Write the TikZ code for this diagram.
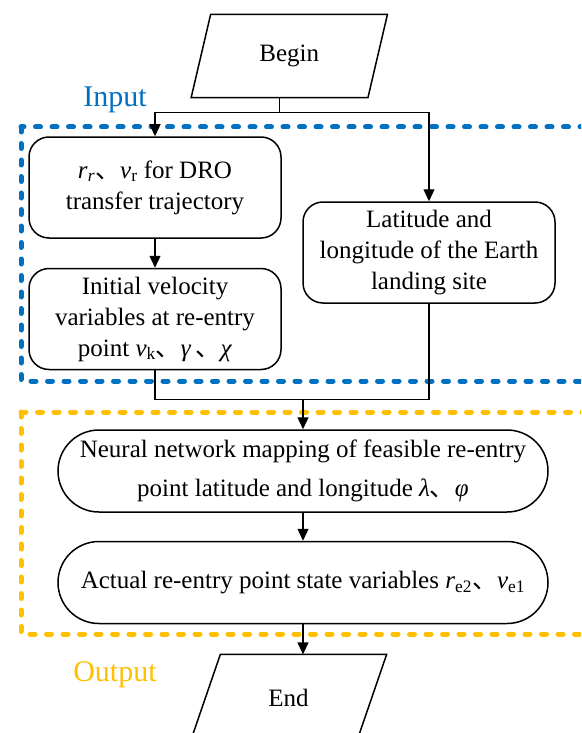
\documentclass[tikz,border=0pt]{standalone}
\usepackage{fontspec}
\setmainfont{Liberation Serif}
\newfontfamily\cjk{Noto Sans CJK SC}
\usetikzlibrary{arrows.meta, positioning}
\definecolor{cblue}{HTML}{0070C0}
\definecolor{cyellow}{HTML}{FFC000}
\newcommand{\dun}{{\cjk 、}}
\tikzset{
  every picture/.style={x=1pt, y=-1pt, line width=1.3pt},
  box/.style={draw, rounded corners=20pt, align=center, minimum width=252pt, minimum height=101pt, line width=1.5pt, font=\fontsize{25}{31}\selectfont},
  pill/.style={draw, rounded corners=41pt, align=center, minimum width=490pt, minimum height=82pt, line width=1.5pt, font=\fontsize{25}{39}\selectfont},
  io/.style={align=center, font=\fontsize{25}{31}\selectfont},
  arrow/.style={-{Triangle[length=12pt, width=11pt]}},
  region/.style={draw=#1, line width=5pt, dash pattern=on 5pt off 11.5pt, line cap=round},
  tag/.style={text=#1, font=\fontsize{30}{36}\selectfont},
}

\begin{document}
\begin{tikzpicture}
  \path[use as bounding box, clip] (0,0) rectangle (581,733);
  % input and output regions
  \draw[region=cblue] (21,127) rectangle (610,381);
  \draw[region=cyellow] (21,412) rectangle (610,634);
  \node[tag=cblue] (inlabel) at (115,100) {Input};
  \node[tag=cyellow] (outlabel) at (115,675) {Output};

  \node[io, minimum width=175.5pt, minimum height=82pt] (begin) at (289.3,56) {Begin};
  \draw[line width=1.5pt] ([xshift=9.75pt]begin.north west) -- ([xshift=9.75pt]begin.north east) -- ([xshift=-9.75pt]begin.south east) -- ([xshift=-9.75pt]begin.south west) -- cycle;
  \node[box] (traj) at (155,187.5) {\textit{r}\textsubscript{\textit{r}}\dun\textit{v}\textsubscript{r} for DRO\\transfer trajectory};
  \node[box, below=29pt of traj] (vel) {Initial velocity\\variables at re-entry\\point \textit{v}\textsubscript{k}\dun\textit{γ}\,\dun\textit{χ}};
  \node[box] (site) at (429,252.5) {Latitude and\\longitude of the Earth\\landing site};
  \node[pill] (map) at (303,471) {Neural network mapping of feasible re-entry\\point latitude and longitude \textit{λ}\dun\textit{φ}};
  \node[pill, below=28pt of map] (state) {Actual re-entry point state variables \textit{r}\textsubscript{e2}\dun\textit{v}\textsubscript{e1}};
  \node[io, minimum width=165pt, minimum height=86pt] (end) at (288.5,698) {End};
  \draw[line width=1.5pt] ([xshift=15pt]end.north west) -- ([xshift=15pt]end.north east) -- ([xshift=-15pt]end.south east) -- ([xshift=-15pt]end.south west) -- cycle;

  \draw ([xshift=-9.75pt]begin.south) -- ++(0,15) coordinate (split);
  \draw[arrow] (split) -| (traj.north);
  \draw[arrow] (split) -| (site.north);
  \draw[arrow] (traj) -- (vel);
  \draw (vel.south) -- ++(0,29) coordinate (joinl) -| (site.south);
  \draw[arrow] (map.north |- joinl) -- (map.north);
  \draw[arrow] (map) -- (state);
  \draw[arrow] (state.south) -- (state.south |- end.north);
\end{tikzpicture}
\end{document}
